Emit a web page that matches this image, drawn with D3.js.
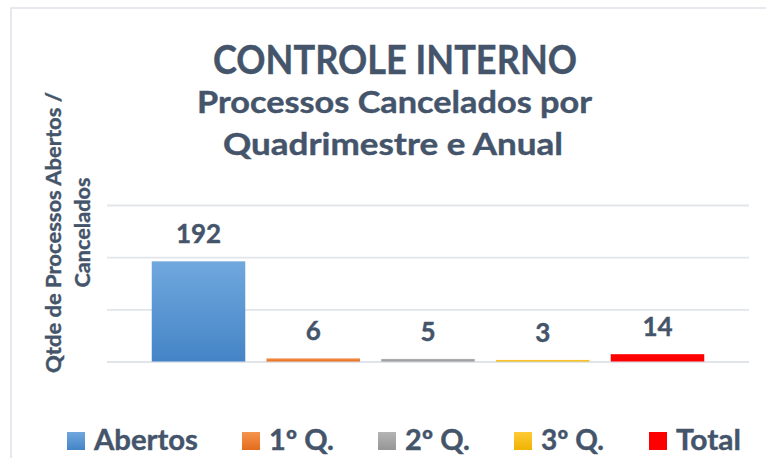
<!DOCTYPE html>
<html>
<head>
<meta charset="utf-8">
<script src="https://cdn.jsdelivr.net/npm/d3@7"></script>
<style>
  html, body { margin: 0; padding: 0; background: #fff; }
  svg { display: block; font-family: Lato, "Noto Sans", sans-serif; }
  svg text { stroke: #44546a; stroke-width: 0.4; }
</style>
</head>
<body>
<svg id="chart" width="766" height="458"></svg>
<script>
// chart data
const categories = ["Abertos", "1º Q.", "2º Q.", "3º Q.", "Total"];
const values = [192, 6, 5, 3, 14];
const yTicks = [0, 100, 200, 300];
const titleLines = ["CONTROLE INTERNO", "Processos Cancelados por", "Quadrimestre e Anual"];
const yLabelLines = ["Qtde de Processos Abertos /", "Cancelados"];

// colours per series: [top, bottom] of gradient
const barColors = [
    ["#70a8de", "#4484c6"],
    ["#f5944f", "#e46c1c"],
    ["#b4b4b4", "#969696"],
    ["#ffca38", "#efb300"],
    ["#ff0000", "#ff0000"]
];
const textColor = "#44546a";

const svg = d3.select("#chart");
const W = 766, H = 458;

// plot area
const plotLeft = 107, plotRight = 749, plotTop = 205, plotBottom = 361.5;

// outer chart border
svg.append("rect")
    .attr("x", 11).attr("y", 8)
    .attr("width", W + 20).attr("height", H + 20)
    .attr("fill", "#fff")
    .attr("stroke", "#dde2e9")
    .attr("stroke-width", 1.5);

// gradients
const defs = svg.append("defs");
barColors.forEach((c, i) => {
    let g = defs.append("linearGradient")
        .attr("id", "grad" + i)
        .attr("x1", 0).attr("y1", 0).attr("x2", 0).attr("y2", 1);
    g.append("stop").attr("offset", "0%").attr("stop-color", c[0]);
    g.append("stop").attr("offset", "100%").attr("stop-color", c[1]);
});

// scales
let xscale = d3.scaleBand()
    .domain(categories)
    .range([plotLeft, plotRight])
    .paddingInner(0.185)
    .paddingOuter(0.39);
let yscale = d3.scaleLinear()
    .domain([0, 300])
    .range([plotBottom, plotTop]);

// gridlines
let yaxis = d3.axisLeft(yscale)
    .tickValues(yTicks)
    .tickSize(-(plotRight - plotLeft))
    .tickFormat("");
let yaxisSel = svg.append("g")
    .attr("transform", `translate(${plotLeft},0)`)
    .call(yaxis);
yaxisSel.select(".domain").remove();
yaxisSel.selectAll(".tick line")
    .attr("stroke", "#e1e5ea")
    .attr("stroke-width", 1.8);

// helper: squeeze text to a target width
function fitText(sel, width) {
    sel.each(function() {
        let len = this.getComputedTextLength();
        if (Math.abs(len - width) > 2) {
            d3.select(this)
                .attr("textLength", width)
                .attr("lengthAdjust", "spacingAndGlyphs");
        }
    });
}

// bars
svg.append("g").selectAll("rect")
    .data(values)
    .enter()
    .append("rect")
    .attr("x", (d, i) => xscale(categories[i]))
    .attr("width", xscale.bandwidth())
    .attr("y", d => yscale(d))
    .attr("height", d => yscale(0) - yscale(d))
    .attr("fill", (d, i) => `url(#grad${i})`);

// value labels
svg.append("g").selectAll("text")
    .data(values)
    .enter()
    .append("text")
    .attr("x", (d, i) => xscale(categories[i]) + xscale.bandwidth() / 2)
    .attr("y", d => yscale(d) - 18)
    .attr("text-anchor", "middle")
    .attr("font-size", 26)
    .attr("font-weight", "bold")
    .attr("fill", textColor)
    .text(d => d);

// titles
const titleSpec = [
    {size: 40, y: 74, w: 364, cx: 395},
    {size: 30, y: 113, w: 395, cx: 394.5},
    {size: 30, y: 155, w: 340, cx: 393}
];
titleLines.forEach((t, i) => {
    let s = titleSpec[i];
    svg.append("text")
        .attr("x", s.cx)
        .attr("y", s.y)
        .attr("text-anchor", "middle")
        .attr("font-size", s.size)
        .attr("font-weight", "bold")
        .attr("fill", textColor)
        .text(t)
        .call(fitText, s.w);
});

// y axis title (rotated, two lines)
const yLabelSpec = [{x: 61, w: 281}, {x: 90, w: 110}];
yLabelLines.forEach((t, i) => {
    svg.append("text")
        .attr("transform", `translate(${yLabelSpec[i].x}, 232.5) rotate(-90)`)
        .attr("text-anchor", "middle")
        .attr("font-size", 21)
        .attr("font-weight", "bold")
        .attr("fill", textColor)
        .text(t)
        .call(fitText, yLabelSpec[i].w);
});

// legend
const legendTextW = [104, 65, 65, 64, 65];
let legend = svg.append("g");
let legendItems = [];
categories.forEach((c, i) => {
    let g = legend.append("g");
    g.append("rect")
        .attr("x", 0).attr("y", -18)
        .attr("width", 18).attr("height", 18)
        .attr("fill", `url(#grad${i})`);
    g.append("text")
        .attr("x", 27).attr("y", 0)
        .attr("font-size", 28)
        .attr("font-weight", "bold")
        .attr("fill", textColor)
        .text(c)
        .call(fitText, legendTextW[i]);
    legendItems.push({g: g, w: 27 + legendTextW[i]});
});
let gap = 44;
let totalW = d3.sum(legendItems, d => d.w) + gap * (legendItems.length - 1);
let lx = 404 - totalW / 2;
legendItems.forEach(d => {
    d.g.attr("transform", `translate(${lx},450)`);
    lx += d.w + gap;
});
</script>
</body>
</html>
